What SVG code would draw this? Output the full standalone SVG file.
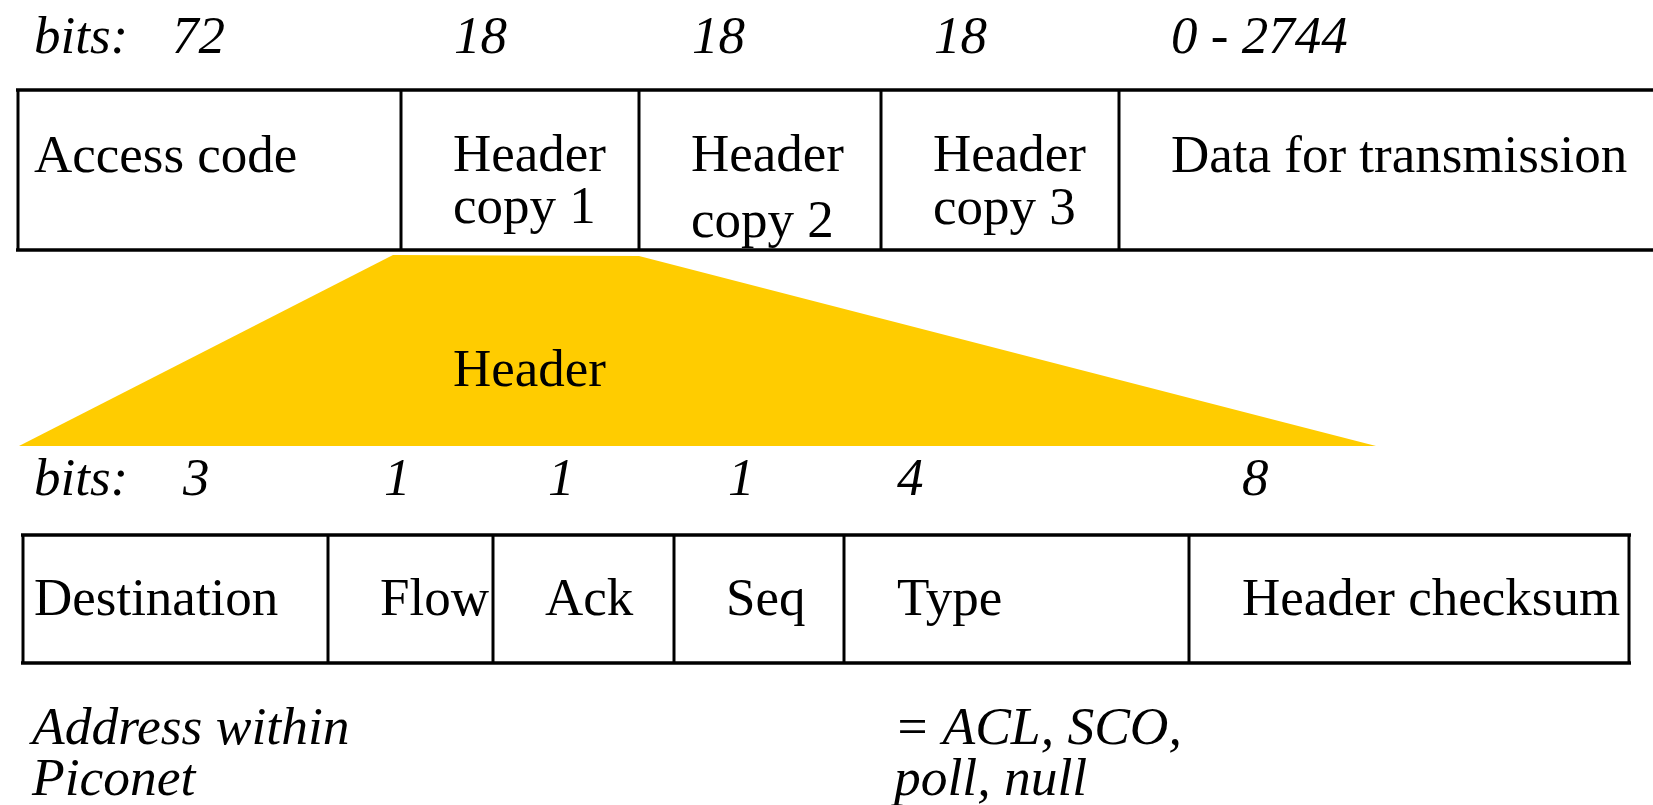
<svg xmlns="http://www.w3.org/2000/svg" width="1653" height="805" viewBox="0 0 1653 805">
<style>
.t{font-family:"Liberation Serif","Times New Roman",serif;font-size:53px;fill:#000}
.i{font-family:"Liberation Serif","Times New Roman",serif;font-size:53px;font-style:italic;fill:#000}
.n{font-family:"Liberation Serif","Times New Roman",serif;font-size:53.5px;font-style:italic;fill:#000}
.ln{stroke:#000;stroke-width:3;fill:none}
.hl{stroke:#000;stroke-width:3.5;fill:none}
</style>
<rect width="1653" height="805" fill="#fff"/>
<g id="bits-top">
<text class="i" x="34" y="53">bits:</text>
<text class="i" x="172" y="53">72</text>
<text class="i" x="454" y="53">18</text>
<text class="i" x="692" y="53">18</text>
<text class="i" x="934" y="53">18</text>
<text class="i" x="1171" y="53">0 - 2744</text>
</g>
<g id="packet">
<line class="hl" x1="16" y1="90" x2="1653" y2="90"/>
<line class="hl" x1="16" y1="250" x2="1653" y2="250"/>
<line class="ln" x1="18" y1="90" x2="18" y2="250"/>
<line class="ln" x1="401" y1="90" x2="401" y2="250"/>
<line class="ln" x1="639" y1="90" x2="639" y2="250"/>
<line class="ln" x1="881" y1="90" x2="881" y2="250"/>
<line class="ln" x1="1119" y1="90" x2="1119" y2="250"/>
</g>
<g id="access-code"><text class="t" x="34" y="172">Access code</text></g>
<g id="header-copy-1"><text class="t" x="453" y="171">Header</text><text class="t" x="453" y="223">copy 1</text></g>
<g id="header-copy-2"><text class="t" x="691" y="171">Header</text><text class="t" x="691" y="237">copy 2</text></g>
<g id="header-copy-3"><text class="t" x="933" y="171">Header</text><text class="t" x="933" y="224">copy 3</text></g>
<g id="data"><text class="t" x="1171" y="172">Data for transmission</text></g>
<g id="connectors">
<polygon points="393,255 639,256 1376,446 19,446" fill="#FFCC00"/>
</g>
<g id="header-label"><text class="t" x="453" y="386">Header</text></g>
<g id="bits-bottom">
<text class="i" x="34" y="495">bits:</text>
<text class="i" x="183" y="495">3</text>
<text class="i" x="384" y="495">1</text>
<text class="i" x="548" y="495">1</text>
<text class="i" x="728" y="495">1</text>
<text class="i" x="897" y="495">4</text>
<text class="i" x="1242" y="495">8</text>
</g>
<g id="header-fields">
<line class="hl" x1="21" y1="535" x2="1631" y2="535"/>
<line class="hl" x1="21" y1="663" x2="1631" y2="663"/>
<line class="ln" x1="23" y1="535" x2="23" y2="663"/>
<line class="ln" x1="328" y1="535" x2="328" y2="663"/>
<line class="ln" x1="493" y1="535" x2="493" y2="663"/>
<line class="ln" x1="674" y1="535" x2="674" y2="663"/>
<line class="ln" x1="844" y1="535" x2="844" y2="663"/>
<line class="ln" x1="1189" y1="535" x2="1189" y2="663"/>
<line class="ln" x1="1629" y1="535" x2="1629" y2="663"/>
</g>
<g id="destination"><text class="t" x="34" y="615">Destination</text></g>
<g id="flow"><text class="t" x="380" y="615">Flow</text></g>
<g id="ack"><text class="t" x="545" y="615">Ack</text></g>
<g id="seq"><text class="t" x="726" y="615">Seq</text></g>
<g id="type"><text class="t" x="897" y="615">Type</text></g>
<g id="checksum"><text class="t" x="1242" y="615">Header checksum</text></g>
<g id="notes">
<text class="n" x="32" y="744">Address within</text>
<text class="n" x="32" y="795">Piconet</text>
<text class="n" x="894" y="744">= ACL, SCO,</text>
<text class="n" x="894" y="795">poll, null</text>
</g>
</svg>
